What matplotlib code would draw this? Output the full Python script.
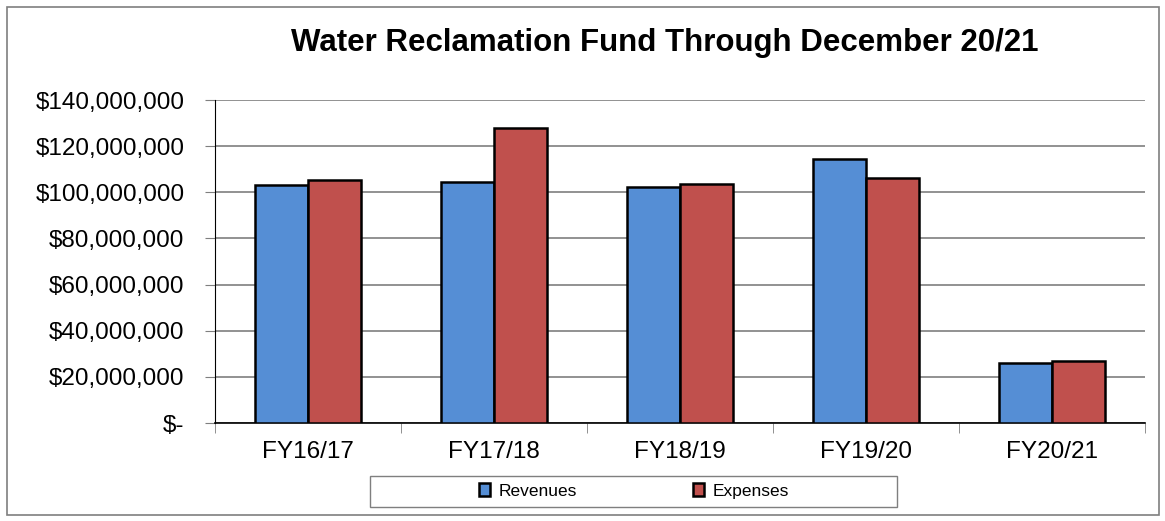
import numpy as np
import matplotlib.pyplot as plt
from matplotlib.patches import Rectangle

plt.rcParams['font.family'] = ['Liberation Sans', 'DejaVu Sans']

# Dados (valores em dólares)
anos = ['FY16/17', 'FY17/18', 'FY18/19', 'FY19/20', 'FY20/21']
receitas = [103.3e6, 104.6e6, 102.3e6, 114.4e6, 25.9e6]
despesas = [105.3e6, 128.0e6, 103.6e6, 106.3e6, 27.0e6]
ticks_y = [0, 20e6, 40e6, 60e6, 80e6, 100e6, 120e6, 140e6]
labels_y = ['$-', '$20,000,000', '$40,000,000', '$60,000,000', '$80,000,000',
            '$100,000,000', '$120,000,000', '$140,000,000']

fig = plt.figure(figsize=(11.65, 5.21), dpi=100)
ax = fig.add_axes([215/1165, 1 - 423/521, 930/1165, 323/521])

# borda externa
fig.patches.append(Rectangle((7/1165, 6/521), 1152/1165, 508/521, transform=fig.transFigure,
                             fill=False, edgecolor='#7f7f7f', linewidth=1.2))

x = np.arange(len(anos))
w = 0.285
ax.bar(x - w/2, receitas, w, color='#558ed5', edgecolor='black', linewidth=1.8,
       label='Revenues', zorder=3)
ax.bar(x + w/2, despesas, w, color='#c0504d', edgecolor='black', linewidth=1.8,
       label='Expenses', zorder=3)

ax.set_xlim(-0.5, len(anos) - 0.5)
ax.set_ylim(0, 140e6)
ax.set_yticks(ticks_y)
ax.set_yticklabels(labels_y, fontsize=17.5)
ax.set_xticks(x)
ax.set_xticklabels(anos, fontsize=17.5)
ax.set_xticks(np.arange(len(anos) + 1) - 0.5, minor=True)
ax.tick_params(axis='x', which='major', length=0, pad=13)
ax.tick_params(axis='x', which='minor', length=7, color='#7f7f7f')
ax.tick_params(axis='y', length=7, color='#7f7f7f', pad=15)

ax.grid(axis='y', color='#7f7f7f', linewidth=1.2, zorder=0)
ax.spines['top'].set_visible(False)
ax.spines['right'].set_visible(False)
ax.spines['left'].set_color('black')
ax.spines['bottom'].set_color('black')
ax.spines['bottom'].set_linewidth(1.2)

fig.text(665/1165, 1 - 43/521, 'Water Reclamation Fund Through December 20/21',
         ha='center', va='center', fontsize=22.5, fontweight='bold')

# caixa da legenda
fig.patches.append(Rectangle((370/1165, 1 - 507/521), 527/1165, 31/521, transform=fig.transFigure,
                             fill=False, edgecolor='#7f7f7f', linewidth=1.0))
leg = fig.legend(loc='center', bbox_to_anchor=(634/1165, 1 - 491/521), ncol=2,
                 fontsize=12.5, frameon=False,
                 handlelength=0.6, handleheight=0.8, columnspacing=6.7,
                 handletextpad=0.5)

fig.savefig('out.png', dpi=100)
